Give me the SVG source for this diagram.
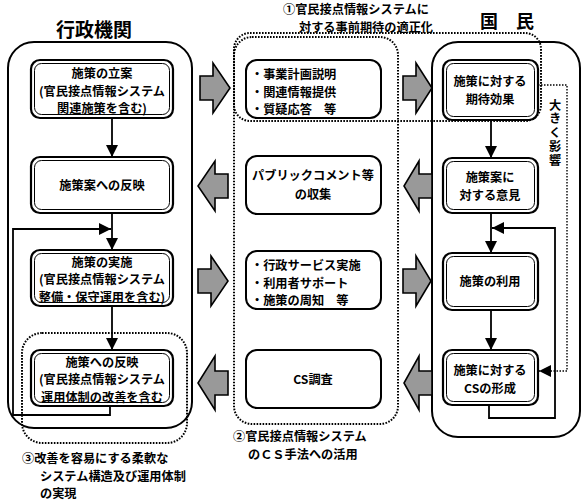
<svg xmlns="http://www.w3.org/2000/svg" width="586" height="502" viewBox="0 0 586 502">
<defs>
<style>
.t{font-family:"Noto Sans CJK JP","Noto Sans CJK SC",sans-serif;font-weight:bold;fill:#000;}
.n{font-size:12.2px;}
.c{text-anchor:middle;}
.cont{fill:none;stroke:#000;stroke-width:2;}
.dot{fill:none;stroke:#000;stroke-width:2;stroke-dasharray:1.6 1.4;}
.ob{fill:#fff;stroke:#000;stroke-width:2.2;}
.ib{fill:none;stroke:#000;stroke-width:1;}
.mb{fill:#fff;stroke:#000;stroke-width:2;}
.ln{fill:none;stroke:#000;stroke-width:1.8;}
.dl{fill:none;stroke:#000;stroke-width:1.4;stroke-dasharray:1.5 1.5;}
.ba{fill:#999;stroke:#000;stroke-width:1.6;stroke-linejoin:miter;}
</style>
<marker id="ah" viewBox="0 0 10 10" refX="10" refY="5" markerWidth="12" markerHeight="12" markerUnits="userSpaceOnUse" orient="auto">
<path d="M0,0 L10,5 L0,10 Z" fill="#000"/>
</marker>
</defs>
<rect width="586" height="502" fill="#fff"/>

<!-- containers -->
<g id="gyosei">
<rect class="cont" x="8" y="42" width="184" height="386" rx="26"/>
<text class="t c" x="94" y="37" font-size="19">行政機関</text>
</g>
<g id="kokumin">
<rect class="cont" x="432" y="42" width="148" height="395" rx="26"/>
<text class="t c" x="507" y="28" font-size="18">国　民</text>
</g>
<g id="area1">
<rect class="dot" x="234" y="33" width="307" height="88" rx="16"/>
<text class="t n" x="283" y="14">①官民接点情報システムに</text>
<text class="t n" x="299" y="31.8">対する事前期待の適正化</text>
</g>
<g id="area2">
<rect class="dot" x="234" y="37" width="164" height="387" rx="18"/>
<text class="t n" x="233" y="441">②官民接点情報システム</text>
<text class="t n" x="248" y="458.8">のＣＳ手法への活用</text>
</g>
<g id="area3">
<rect class="dot" x="22" y="333" width="165" height="110" rx="20"/>
<text class="t n" x="22" y="463">③改善を容易にする柔軟な</text>
<text class="t n" x="40" y="480.7">システム構造及び運用体制</text>
<text class="t n" x="40" y="498">の実現</text>
</g>

<!-- connectors -->
<g id="connectors">
<line class="ln" x1="112" y1="118" x2="112" y2="157" marker-end="url(#ah)"/>
<line class="ln" x1="112" y1="213" x2="112" y2="250" marker-end="url(#ah)"/>
<line class="ln" x1="112" y1="306" x2="112" y2="350" marker-end="url(#ah)"/>
<polyline class="ln" points="110,406 110,415 13,415 13,229 111,229" marker-end="url(#ah)"/>
<line class="ln" x1="491" y1="120" x2="491" y2="158" marker-end="url(#ah)"/>
<line class="ln" x1="491" y1="213" x2="491" y2="253" marker-end="url(#ah)"/>
<line class="ln" x1="491" y1="310" x2="491" y2="350" marker-end="url(#ah)"/>
<polyline class="ln" points="489,405 489,418 555,418 555,228 492,228" marker-end="url(#ah)"/>
<polyline class="dl" points="538,85 567,85 567,371 539,371" marker-end="url(#ah)"/>
<text class="t n" x="555" y="99" writing-mode="vertical-rl" letter-spacing="1.5">大きく影響</text>
<!-- block arrows -->
<path class="ba" d="M200,76 H213 V63 L230,88 L213,113 V100 H200 Z"/>
<path class="ba" d="M228,174 H215 V161 L198,186 L215,211 V198 H228 Z"/>
<path class="ba" d="M198,269 H211 V256 L228,281 L211,306 V293 H198 Z"/>
<path class="ba" d="M228,371 H215 V356 L198,383 L215,410 V395 H228 Z"/>
<path class="ba" d="M403,76 H416 V63 L432,88 L416,113 V100 H403 Z"/>
<path class="ba" d="M432,174 H419 V161 L404,186 L419,211 V198 H432 Z"/>
<path class="ba" d="M403,269 H416 V256 L431,281 L416,306 V293 H403 Z"/>
<path class="ba" d="M432,371 H419 V356 L404,383 L419,410 V395 H432 Z"/>
</g>

<!-- left nodes -->
<g id="L1">
<rect class="ob" x="31" y="60" width="142" height="58" rx="9"/>
<rect class="ib" x="34.5" y="63.5" width="135" height="51" rx="7"/>
<text class="t n c" x="102" y="78">施策の立案</text>
<text class="t n c" x="102" y="95.8">(官民接点情報システム</text>
<text class="t n c" x="102" y="113.4">関連施策を含む)</text>
</g>
<g id="L2">
<rect class="ob" x="31" y="157" width="142" height="56" rx="9"/>
<rect class="ib" x="34.5" y="160.5" width="135" height="49" rx="7"/>
<text class="t n c" x="102" y="190">施策案への反映</text>
</g>
<g id="L3">
<rect class="ob" x="31" y="250" width="142" height="56" rx="9"/>
<rect class="ib" x="34.5" y="253.5" width="135" height="49" rx="7"/>
<text class="t n c" x="102" y="266.5">施策の実施</text>
<text class="t n c" x="102" y="284.3">(官民接点情報システム</text>
<text class="t n c" x="102" y="302">整備・保守運用を含む)</text>
</g>
<g id="L4">
<rect class="ob" x="31" y="350" width="142" height="56" rx="9"/>
<rect class="ib" x="34.5" y="353.5" width="135" height="49" rx="7"/>
<text class="t n c" x="102" y="366.5">施策への反映</text>
<text class="t n c" x="102" y="384.3">(官民接点情報システム</text>
<text class="t n c" x="102" y="402">運用体制の改善を含む</text>
</g>

<!-- middle nodes -->
<g id="M1">
<rect class="mb" x="246" y="60" width="135" height="58" rx="11"/>
<text class="t n" x="251" y="79">・事業計画説明</text>
<text class="t n" x="251" y="96.8">・関連情報提供</text>
<text class="t n" x="251" y="114.4">・質疑応答　等</text>
</g>
<g id="M2">
<rect class="mb" x="246" y="156" width="135" height="58" rx="11"/>
<text class="t n c" x="313" y="180">パブリックコメント等</text>
<text class="t n c" x="313" y="199">の収集</text>
</g>
<g id="M3">
<rect class="mb" x="246" y="251" width="135" height="58" rx="11"/>
<text class="t n" x="251" y="270">・行政サービス実施</text>
<text class="t n" x="251" y="287.8">・利用者サポート</text>
<text class="t n" x="251" y="305.4">・施策の周知　等</text>
</g>
<g id="M4">
<rect class="mb" x="246" y="350" width="135" height="58" rx="11"/>
<text class="t n c" x="313" y="384">CS調査</text>
</g>

<!-- right nodes -->
<g id="R1">
<rect class="ob" x="443" y="60" width="95" height="60" rx="9"/>
<rect class="ib" x="446.5" y="63.5" width="88" height="53" rx="7"/>
<text class="t n c" x="490" y="86">施策に対する</text>
<text class="t n c" x="490" y="104">期待効果</text>
</g>
<g id="R2">
<rect class="ob" x="443" y="158" width="95" height="55" rx="9"/>
<rect class="ib" x="446.5" y="161.5" width="88" height="48" rx="7"/>
<text class="t n c" x="490" y="182">施策案に</text>
<text class="t n c" x="490" y="200">対する意見</text>
</g>
<g id="R3">
<rect class="ob" x="443" y="253" width="95" height="57" rx="9"/>
<rect class="ib" x="446.5" y="256.5" width="88" height="50" rx="7"/>
<text class="t n c" x="490" y="286">施策の利用</text>
</g>
<g id="R4">
<rect class="ob" x="443" y="350" width="95" height="55" rx="9"/>
<rect class="ib" x="446.5" y="353.5" width="88" height="48" rx="7"/>
<text class="t n c" x="490" y="375">施策に対する</text>
<text class="t n c" x="490" y="393">CSの形成</text>
</g>
</svg>
